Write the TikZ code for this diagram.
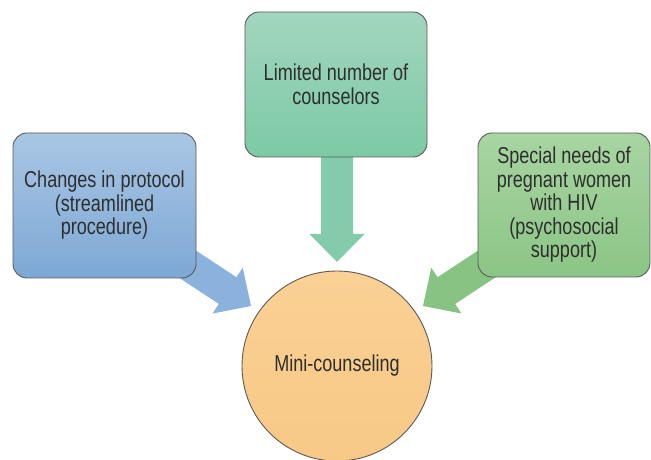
\documentclass[tikz,border=0pt]{standalone}
\usepackage{fontspec}
\setmainfont[FakeStretch=0.785]{Liberation Sans}
\usetikzlibrary{calc}
\definecolor{txt}{HTML}{2E2E2E}
\definecolor{edge}{HTML}{5A5A5A}
\definecolor{bluetop}{HTML}{A9C6E4}
\definecolor{bluebot}{HTML}{7DA8D5}
\definecolor{bluearr}{HTML}{8AB2DC}
\definecolor{tealtop}{HTML}{A2D5BF}
\definecolor{tealbot}{HTML}{7CCAA5}
\definecolor{tealarr}{HTML}{84CBAA}
\definecolor{greentop}{HTML}{A8D5A2}
\definecolor{greenbot}{HTML}{8BC585}
\definecolor{greenarr}{HTML}{89C384}
\definecolor{orange}{HTML}{F8C986}
\definecolor{orangetop}{HTML}{FAD094}
\tikzset{
  boxstyle/.style={draw=edge, line width=0.9pt, rounded corners=14pt, align=center,
    text=txt, font=\fontsize{23}{23.5}\selectfont, inner sep=0pt},
}
\newcommand{\blockarr}[3]{%
  \begin{scope}[shift={(#1)}, rotate=#2]
    \fill[#3] (0,0) -- (-28,27.5) -- (-28,16) -- (-105,16) -- (-105,-16) -- (-28,-16) -- (-28,-27.5) -- cycle;
  \end{scope}}
\begin{document}
\begin{tikzpicture}[x=1pt,y=1pt]
\useasboundingbox (0,0) rectangle (651,460);
% arrow tips
\coordinate (tipL) at (251,154);
\coordinate (tipT) at (337,198);
\coordinate (tipR) at (423,154);
\blockarr{tipL}{-33.4}{bluearr}
\blockarr{tipT}{-90}{tealarr}
\blockarr{tipR}{213.4}{greenarr}
% boxes
\node[boxstyle, top color=bluetop, bottom color=bluebot, minimum width=183pt, minimum height=145pt] (left) at (104.5,254.5)
  {Changes in protocol\\(streamlined\\procedure)};
\node[boxstyle, top color=tealtop, bottom color=tealbot, minimum width=182pt, minimum height=145pt] (top) at (336,375.5)
  {Limited number of\\counselors};
\node[boxstyle, top color=greentop, bottom color=greenbot, minimum width=172pt, minimum height=144pt] (right) at (564,255)
  {Special needs of\\pregnant women\\with HIV\\(psychosocial\\support)};
\node[circle, draw=edge, line width=0.9pt, top color=orangetop, bottom color=orange, minimum size=190pt,
  text=txt, font=\fontsize{23}{23.5}\selectfont, inner sep=0pt] (mini) at (337,94) {Mini-counseling};
\end{tikzpicture}
\end{document}
